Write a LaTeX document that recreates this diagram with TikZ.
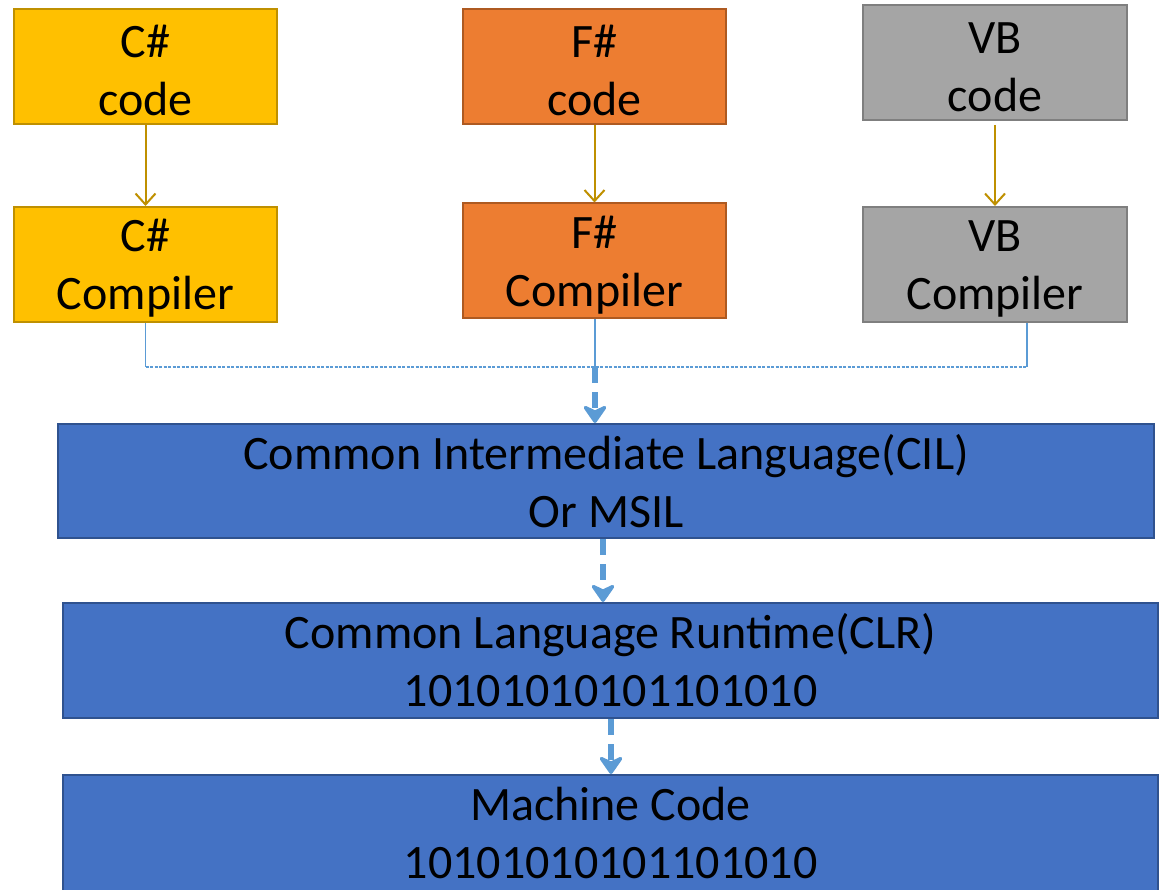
\documentclass[tikz,border=0pt]{standalone}
\usepackage{fontspec}
\setmainfont{Carlito}
\usetikzlibrary{arrows.meta}
\definecolor{csfill}{HTML}{FFC000}
\definecolor{csline}{HTML}{BF9000}
\definecolor{fsfill}{HTML}{ED7D31}
\definecolor{fsline}{HTML}{AE5A21}
\definecolor{vbfill}{HTML}{A5A5A5}
\definecolor{vbline}{HTML}{7F7F7F}
\definecolor{netfill}{HTML}{4472C4}
\definecolor{netline}{HTML}{2F528F}
\definecolor{flow}{HTML}{5B9BD5}
\begin{document}
\begin{tikzpicture}[x=1pt,y=-1pt,
  box/.style={draw, line width=2pt, minimum width=263pt, minimum height=115pt,
    align=center, inner sep=0pt, text=black, font=\fontsize{48}{58}\selectfont},
  csbox/.style={box, fill=csfill, draw=csline},
  fsbox/.style={box, fill=fsfill, draw=fsline},
  vbbox/.style={box, fill=vbfill, draw=vbline, minimum width=264pt},
  netbox/.style={box, fill=netfill, draw=netline, minimum width=1095pt},
  compile/.style={draw=csline, line width=2pt, -{Straight Barb[length=11pt,width=20pt]}},
  link/.style={draw=flow, line width=1.1pt},
  linkdash/.style={link, dash pattern=on 3pt off 1.5pt},
  flowarrow/.style={draw=flow, line width=5.5pt, dash pattern=on 16pt off 9pt,
    -{Stealth[length=21pt,width=29pt,inset=7pt,round]}}]
\clip (0,0) rectangle (1164,890);
\fill[white] (0,0) rectangle (1164,890);

% source files
\node[csbox] (csc) at (145.5,66.5) {\strut C\#\\code};
\node[fsbox] (fsc) at (594.5,66.5) {\strut F\#\\code};
\node[vbbox] (vbc) at (995,62.5) {\strut VB\\code};

% compilers
\node[csbox] (cscomp) at (145.5,264.5) {\strut C\#\\Compiler};
\node[fsbox] (fscomp) at (594.5,261) {\strut F\#\\Compiler};
\node[vbbox] (vbcomp) at (995,264.5) {\strut VB\\Compiler};

% runtime pipeline
\node[netbox, minimum width=1096pt, minimum height=114pt] (cil) at (606,481)
  {Common Intermediate Language(CIL)\\Or MSIL};
\node[netbox] (clr) at (610.5,660.5) {Common Language Runtime(CLR)\\10101010101101010};
\node[netbox, minimum height=116pt] (mc) at (610.5,833) {Machine Code\\10101010101101010};

% code -> compiler
\draw[compile] (csc) -- (cscomp);
\draw[compile] (fsc) -- (fscomp);
\draw[compile, shorten <=4pt] (vbc) -- (vbcomp);

% compiler outputs joined into one line
\coordinate (join) at (595,367);
\coordinate (vbout) at ([xshift=32pt]vbcomp.south);
\draw[link] (cscomp.south) -- (cscomp.south |- join);
\draw[linkdash] (cscomp.south |- join) -- (vbout |- join);
\draw[link] (vbout) -- (vbout |- join);
\draw[link] (fscomp.south -| join) -- (join);

% flow downwards
\draw[flowarrow] (join) -- (cil.north -| join);
\coordinate (c2) at (603,0);
\draw[flowarrow] (cil.south -| c2) -- (clr.north -| c2);
\coordinate (c3) at (611,0);
\draw[flowarrow] (clr.south -| c3) -- (mc.north -| c3);
\end{tikzpicture}
\end{document}
